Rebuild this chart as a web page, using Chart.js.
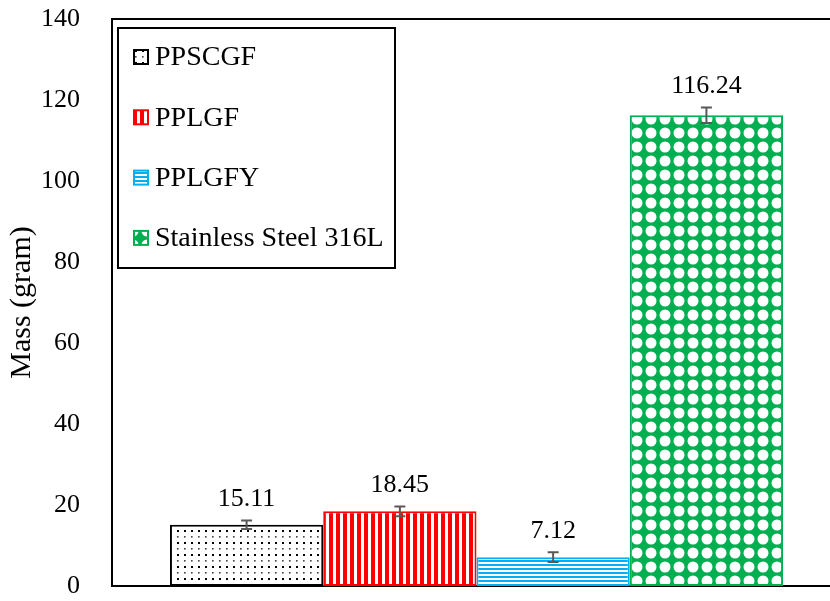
<!DOCTYPE html>
<html>
<head>
<meta charset="utf-8">
<script src="https://cdn.jsdelivr.net/npm/chart.js@4.4.1/dist/chart.umd.min.js"></script>
<style>
  html, body { margin: 0; padding: 0; background: #fff; overflow: hidden; }
  #wrap { width: 841px; height: 601px; }
</style>
</head>
<body>
<div id="wrap"><canvas id="massChart" width="841" height="601"></canvas></div>
<script>
// data
const categories = ['Mass'];
const seriesNames = ['PPSCGF', 'PPLGF', 'PPLGFY', 'Stainless Steel 316L'];
const massValues = [15.11, 18.45, 7.12, 116.24];
const errorValues = [1.05, 1.2, 1.2, 1.9];
const yTicks = [0, 20, 40, 60, 80, 100, 120, 140];
const seriesColors = ['#000000', '#FF0000', '#00B0F0', '#00B050'];

const FONT = '"Liberation Serif", "Times New Roman", serif';
const canvas = document.getElementById('massChart');

// small repeating tiles for the excel-like fills
function tile(w, h, draw) {
  const c = document.createElement('canvas');
  c.width = w; c.height = h;
  const g = c.getContext('2d');
  draw(g);
  return canvas.getContext('2d').createPattern(c, 'repeat');
}

const patterns = [
  tile(7, 12, g => {
    g.fillStyle = '#fff'; g.fillRect(0, 0, 7, 12);
    g.fillStyle = '#000'; g.fillRect(2, 2, 2, 2);
    g.fillStyle = '#444'; g.fillRect(2, 8, 1.6, 1.6);
  }),
  tile(7, 1, g => {
    g.fillStyle = '#fff'; g.fillRect(0, 0, 7, 1);
    g.fillStyle = '#FF0000'; g.fillRect(0, 0, 4, 1);
  }),
  tile(1, 4, g => {
    g.fillStyle = '#fff'; g.fillRect(0, 0, 1, 4);
    g.fillStyle = '#00B0F0'; g.fillRect(0, 0, 1, 2);
  }),
  tile(14, 14, g => {
    g.fillStyle = '#00B050'; g.fillRect(0, 0, 14, 14);
    g.fillStyle = '#fff';
    g.beginPath(); g.arc(7, 7, 5.5, 0, Math.PI * 2); g.fill();
  })
];

const frame = {
  id: 'frame',
  beforeDatasetsDraw(chart) {
    const { ctx, chartArea: a } = chart;
    ctx.save();
    ctx.strokeStyle = '#000';
    ctx.lineWidth = 2;
    ctx.strokeRect(a.left, a.top, a.right - a.left, a.bottom - a.top);
    ctx.restore();
  }
};

const errorsAndLabels = {
  id: 'errorsAndLabels',
  afterDatasetsDraw(chart) {
    const { ctx } = chart;
    const y = chart.scales.y;
    ctx.save();
    chart.data.datasets.forEach((ds, i) => {
      const bar = chart.getDatasetMeta(i).data[0];
      const v = massValues[i], e = errorValues[i];
      const top = y.getPixelForValue(v + e);
      const bot = y.getPixelForValue(v - e);
      ctx.strokeStyle = '#595959';
      ctx.lineWidth = 2;
      ctx.beginPath();
      ctx.moveTo(bar.x, top); ctx.lineTo(bar.x, bot);
      ctx.moveTo(bar.x - 5.5, top); ctx.lineTo(bar.x + 5.5, top);
      ctx.moveTo(bar.x - 5.5, bot); ctx.lineTo(bar.x + 5.5, bot);
      ctx.stroke();
      ctx.fillStyle = '#000';
      ctx.font = '26px ' + FONT;
      ctx.textAlign = 'center';
      ctx.textBaseline = 'bottom';
      ctx.fillText(v.toFixed(2), bar.x, top - 8);
    });
    ctx.restore();
  }
};

const boxLegend = {
  id: 'boxLegend',
  afterDraw(chart) {
    const { ctx, chartArea: a } = chart;
    const bx = a.left + 6, by = a.top + 9;
    ctx.save();
    ctx.fillStyle = '#fff';
    ctx.fillRect(bx, by, 277, 240);
    ctx.strokeStyle = '#000';
    ctx.lineWidth = 2;
    ctx.strokeRect(bx, by, 277, 240);
    chart.data.datasets.forEach((ds, i) => {
      const cy = by + 29 + i * 60.3;
      const sx = bx + 16;
      ctx.fillStyle = patterns[i];
      ctx.fillRect(sx, cy - 7, 14, 14);
      ctx.strokeStyle = seriesColors[i];
      ctx.lineWidth = 2;
      ctx.strokeRect(sx, cy - 7, 14, 14);
      ctx.fillStyle = '#000';
      ctx.font = '28px ' + FONT;
      ctx.textAlign = 'left';
      ctx.textBaseline = 'middle';
      ctx.fillText(ds.label, sx + 21, cy + 1);
    });
    ctx.restore();
  }
};

new Chart(canvas, {
  type: 'bar',
  data: {
    labels: categories,
    datasets: seriesNames.map((name, i) => ({
      label: name,
      data: [massValues[i]],
      backgroundColor: patterns[i],
      borderColor: seriesColors[i],
      borderWidth: 2,
      borderSkipped: false,
      categoryPercentage: 0.841,
      barPercentage: 1.0
    }))
  },
  options: {
    responsive: false,
    animation: false,
    layout: { padding: { top: 19, bottom: 15, left: 0, right: 0 } },
    plugins: {
      legend: { display: false },
      tooltip: { enabled: false }
    },
    scales: {
      x: { display: false },
      y: {
        min: yTicks[0],
        max: yTicks[yTicks.length - 1],
        afterBuildTicks: s => { s.ticks = yTicks.map(v => ({ value: v })); },
        afterFit: s => { s.width = 112; s.paddingTop = 0; s.paddingBottom = 0; },
        ticks: { color: '#000', font: { family: FONT, size: 26 }, padding: 24 },
        grid: { display: false },
        border: { display: false },
        title: {
          display: true,
          text: 'Mass (gram)',
          color: '#000',
          font: { family: FONT, size: 30 },
          padding: { top: 4, bottom: 0 }
        }
      }
    }
  },
  plugins: [frame, errorsAndLabels, boxLegend]
});
</script>
</body>
</html>
